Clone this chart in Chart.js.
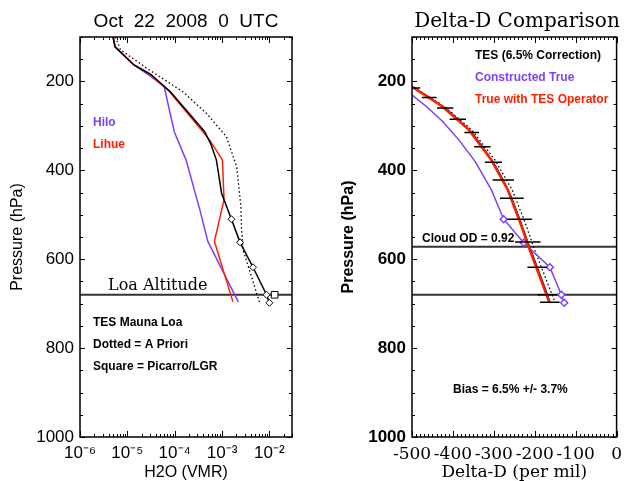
<!DOCTYPE html>
<html>
<head>
<meta charset="utf-8">
<script src="https://cdn.jsdelivr.net/npm/chart.js@4/dist/chart.umd.min.js"></script>
<style>
  body { margin: 0; background: #fff; }
  #wrap { position: relative; width: 629px; height: 481px; }
  canvas { position: absolute; left: 0; top: 0; }
</style>
</head>
<body>
<div id="wrap">
  <canvas id="h2o" width="629" height="481"></canvas>
  <canvas id="dd" width="629" height="481"></canvas>
</div>
<script>
// perfis de vapor d'agua (pressao em hPa, VMR)
var tesPres = [100, 122, 163, 185, 223, 264, 313, 343, 377, 452, 510, 562, 618, 680, 698];
var tesH2O = [5.0e-6, 5.5e-6, 1.38e-5, 3.2e-5, 8.1e-5, 1.74e-4, 4.3e-4, 5.9e-4, 7.6e-4, 9.8e-4, 1.58e-3, 2.4e-3, 4.5e-3, 8.7e-3, 1.0e-2];
var hiloPres = [100, 122, 163, 185, 212, 313, 377, 489, 560, 696];
var hiloH2O = [5.0e-6, 5.5e-6, 1.38e-5, 2.8e-5, 6.0e-5, 9.8e-5, 1.74e-4, 3.4e-4, 5.0e-4, 2.2e-3];
var lihuePres = [100, 122, 163, 182, 223, 332, 377, 467, 489, 560, 696];
var lihueH2O = [5.0e-6, 5.5e-6, 1.38e-5, 2.9e-5, 7.8e-5, 5.5e-4, 1.02e-3, 1.1e-3, 9.8e-4, 6.9e-4, 1.7e-3];
var aprioriPres = [100, 129, 174, 223, 272, 324, 392, 482, 530, 580, 640, 700];
var aprioriH2O = [5.6e-6, 7.2e-6, 2.9e-5, 1.48e-4, 4.7e-4, 1.23e-3, 2.04e-3, 2.5e-3, 2.57e-3, 2.8e-3, 4.2e-3, 6.3e-3];
var picarroPres = [680];
var picarroH2O = [0.0129];
var loaPres = 680;
var h2oDecades = [1e-6, 1e-5, 1e-4, 1e-3, 1e-2];

// delta-D (per mil)
var ddTesPres = [215, 236, 260, 285, 315, 347, 382, 422, 463, 510, 561, 618, 680, 697];
var ddTes = [-494, -458, -419, -388, -354, -328, -301, -277, -256, -237, -217, -194, -169, -163];
var ddTesErr = [14, 18, 20, 20, 18, 20, 21, 26, 29, 30, 31, 24, 24, 24];
var ddTruePres = [215, 257, 290, 332, 381, 444, 510, 563, 618, 680, 698];
var ddTrue = [-521, -464, -425, -385, -345, -306, -276, -227, -163, -135, -128];
var ddOpPres = [205, 257, 309, 377, 444, 519, 572, 696];
var ddOp = [-512, -425, -361, -306, -266, -235, -215, -165];
var ddApPres = [205, 257, 309, 377, 444, 519, 572, 696];
var ddAp = [-510, -420, -354, -297, -255, -223, -203, -151];
var cloudPres = 572;

var roxo = '#7f3fff';
var vermelho = '#ff2000';
var sans = '"Liberation Sans", Arial, sans-serif';
var serif = '"DejaVu Serif", serif';
var notaFonte = 'bold 12px ' + sans;

Chart.defaults.font.family = sans;
Chart.defaults.color = '#000';

function pares(xs, ys) {
    return xs.map(function (x, i) { return { x: x, y: ys[i] }; });
}

function sup(n) {
    var mapa = { '-': '\u207b', '0': '\u2070', '1': '\u00b9', '2': '\u00b2', '3': '\u00b3', '4': '\u2074', '5': '\u2075', '6': '\u2076', '7': '\u2077', '8': '\u2078', '9': '\u2079' };
    return String(n).split('').map(function (c) { return mapa[c]; }).join('');
}

// moldura e marcas para dentro, nos quatro lados
function molduraPlugin(xTicks) {
    return {
        id: 'moldura',
        afterDraw: function (chart) {
            var ctx = chart.ctx, a = chart.chartArea;
            var xs = chart.scales.x, ys = chart.scales.y;
            ctx.save();
            ctx.strokeStyle = '#000';
            ctx.lineWidth = 1;
            ctx.beginPath();
            ys.ticks.forEach(function (t) {
                var py = Math.round(ys.getPixelForValue(t.value)) + 0.5;
                var len = t.value % 200 === 0 ? 5 : 3;
                ctx.moveTo(a.left, py); ctx.lineTo(a.left + len, py);
                ctx.moveTo(a.right, py); ctx.lineTo(a.right - len, py);
            });
            xTicks(xs).forEach(function (t) {
                var px = Math.round(xs.getPixelForValue(t.value)) + 0.5;
                var len = t.major ? 6 : 3;
                ctx.moveTo(px, a.bottom); ctx.lineTo(px, a.bottom - len);
                ctx.moveTo(px, a.top); ctx.lineTo(px, a.top + len);
            });
            ctx.stroke();
            ctx.lineWidth = 1.5;
            ctx.strokeRect(a.left, a.top, a.right - a.left, a.bottom - a.top);
            ctx.restore();
        }
    };
}

function textosPlugin(itens) {
    return {
        id: 'textos',
        afterDraw: function (chart) {
            var ctx = chart.ctx;
            ctx.save();
            ctx.textBaseline = 'middle';
            itens.forEach(function (it) {
                ctx.font = it.font;
                ctx.fillStyle = it.color || '#000';
                ctx.textAlign = it.align || 'left';
                ctx.fillText(it.text, it.x, it.y);
            });
            ctx.restore();
        }
    };
}

var barrasErro = {
    id: 'barrasErro',
    afterDatasetsDraw: function (chart) {
        var ctx = chart.ctx, a = chart.chartArea;
        var xs = chart.scales.x, ys = chart.scales.y;
        ctx.save();
        ctx.beginPath();
        ctx.rect(a.left, a.top, a.right - a.left, a.bottom - a.top);
        ctx.clip();
        ctx.strokeStyle = '#000';
        ctx.lineWidth = 1.5;
        ctx.beginPath();
        ddTesPres.forEach(function (p, i) {
            var py = ys.getPixelForValue(p);
            ctx.moveTo(xs.getPixelForValue(ddTes[i] - ddTesErr[i]), py);
            ctx.lineTo(xs.getPixelForValue(ddTes[i] + ddTesErr[i]), py);
        });
        ctx.stroke();
        ctx.restore();
    }
};

function eixoPressao(negrito, tituloPad) {
    return {
        type: 'linear',
        reverse: true,
        min: 100,
        max: 1000,
        bounds: 'data',
        grid: { display: false, drawTicks: false },
        border: { display: false },
        afterFit: function (s) { s.width = 80; },
        ticks: {
            stepSize: 50,
            autoSkip: false,
            padding: 6,
            font: { size: 17, weight: negrito ? 'bold' : 'normal' },
            callback: function (v) { return v % 200 === 0 ? String(v) : ''; }
        },
        title: {
            display: true,
            text: 'Pressure (hPa)',
            font: { size: 16, lineHeight: 1, weight: negrito ? 'bold' : 'normal' },
            padding: { top: tituloPad, bottom: 0 }
        }
    };
}

// grafico da esquerda: H2O
new Chart(document.getElementById('h2o'), {
    type: 'line',
    data: {
        datasets: [
            {
                data: pares(tesH2O, tesPres),
                borderColor: '#000',
                borderWidth: 1.5,
                pointStyle: 'rectRot',
                pointRadius: function (c) { return c.dataIndex >= 10 ? 3.5 : 0; },
                pointBackgroundColor: '#fff',
                pointBorderColor: '#000',
                pointBorderWidth: 1
            },
            { data: pares(lihueH2O, lihuePres), borderColor: vermelho, borderWidth: 1.5, pointRadius: 0 },
            { data: pares(hiloH2O, hiloPres), borderColor: roxo, borderWidth: 1.5, pointRadius: 0 },
            { data: pares(aprioriH2O, aprioriPres), borderColor: '#000', borderWidth: 1.3, borderDash: [1.5, 2.5], pointRadius: 0 },
            {
                data: pares(picarroH2O, picarroPres),
                showLine: false,
                pointStyle: 'rect',
                pointRadius: 4.7,
                pointBackgroundColor: '#fff',
                pointBorderColor: '#000',
                pointBorderWidth: 1
            },
            { data: [{ x: 1e-6, y: loaPres }, { x: 0.03, y: loaPres }], borderColor: '#333', borderWidth: 2, pointRadius: 0 }
        ]
    },
    options: {
        responsive: false,
        animation: false,
        layout: { padding: { left: 0, right: 337, top: 37, bottom: 0 } },
        plugins: { legend: { display: false }, tooltip: { enabled: false } },
        scales: {
            x: {
                type: 'logarithmic',
                min: 1e-6,
                max: 0.03,
                bounds: 'data',
                grid: { display: false, drawTicks: false },
                border: { display: false },
                afterBuildTicks: function (s) {
                    s.ticks = h2oDecades.map(function (v) { return { value: v }; });
                },
                afterFit: function (s) { s.height = 44; },
                ticks: {
                    autoSkip: false,
                    maxRotation: 0,
                    padding: 6,
                    font: { size: 17 },
                    callback: function (v) { return '10' + sup(Math.round(Math.log10(v))); }
                },
                title: {
                    display: true,
                    text: 'H2O (VMR)',
                    font: { size: 16, lineHeight: 1 },
                    padding: 0
                }
            },
            y: eixoPressao(false, 10)
        }
    },
    plugins: [
        molduraPlugin(function (xs) {
            var lista = [];
            for (var n = -6; n <= -2; n++) {
                for (var k = 1; k <= 9; k++) {
                    var v = k * Math.pow(10, n);
                    if (v <= xs.max) lista.push({ value: v, major: k === 1 });
                }
            }
            return lista;
        }),
        textosPlugin([
            { text: 'Oct  22  2008  0  UTC', x: 186, y: 22, align: 'center', font: '19px ' + sans },
            { text: 'Hilo', x: 93, y: 123, color: roxo, font: notaFonte },
            { text: 'Lihue', x: 93, y: 145, color: vermelho, font: notaFonte },
            { text: 'Loa Altitude', x: 108, y: 286, font: '16px ' + serif },
            { text: 'TES Mauna Loa', x: 93, y: 323, font: notaFonte },
            { text: 'Dotted = A Priori', x: 93, y: 345, font: notaFonte },
            { text: 'Square = Picarro/LGR', x: 93, y: 367, font: notaFonte }
        ])
    ]
});

// grafico da direita: delta-D
new Chart(document.getElementById('dd'), {
    type: 'line',
    data: {
        datasets: [
            { data: pares(ddOp, ddOpPres), borderColor: vermelho, borderWidth: 2.5, pointRadius: 0 },
            {
                data: pares(ddTrue, ddTruePres),
                borderColor: roxo,
                borderWidth: 1.5,
                pointStyle: 'rectRot',
                pointRadius: function (c) { return c.dataIndex >= 6 ? 3.5 : 0; },
                pointBackgroundColor: '#fff',
                pointBorderColor: roxo,
                pointBorderWidth: 1.5
            },
            { data: pares(ddTes, ddTesPres), borderColor: '#000', borderWidth: 1.5, pointRadius: 0 },
            { data: pares(ddAp, ddApPres), borderColor: '#000', borderWidth: 1.3, borderDash: [1.5, 2.5], pointRadius: 0 },
            { data: [{ x: -500, y: cloudPres }, { x: 0, y: cloudPres }], borderColor: '#333', borderWidth: 2, pointRadius: 0 },
            { data: [{ x: -500, y: loaPres }, { x: 0, y: loaPres }], borderColor: '#333', borderWidth: 2, pointRadius: 0 }
        ]
    },
    options: {
        responsive: false,
        animation: false,
        layout: { padding: { left: 332, right: 7, top: 37, bottom: 0 } },
        plugins: { legend: { display: false }, tooltip: { enabled: false } },
        scales: {
            x: {
                type: 'linear',
                min: -500,
                max: 0,
                bounds: 'data',
                grid: { display: false, drawTicks: false },
                border: { display: false },
                afterFit: function (s) { s.height = 44; },
                ticks: {
                    stepSize: 10,
                    autoSkip: false,
                    maxRotation: 0,
                    padding: 7,
                    font: { family: serif, size: 17 },
                    callback: function (v) { return v % 100 === 0 ? String(v) : ''; }
                },
                title: {
                    display: true,
                    text: 'Delta-D (per mil)',
                    font: { family: serif, size: 17, lineHeight: 1 },
                    padding: 0
                }
            },
            y: eixoPressao(true, 8.5)
        }
    },
    plugins: [
        barrasErro,
        molduraPlugin(function (xs) {
            return xs.ticks.map(function (t) { return { value: t.value, major: t.value % 100 === 0 }; });
        }),
        textosPlugin([
            { text: 'Delta-D Comparison', x: 517, y: 22, align: 'center', font: '20px ' + serif },
            { text: 'TES (6.5% Correction)', x: 475, y: 56, font: notaFonte },
            { text: 'Constructed True', x: 475, y: 78, color: roxo, font: notaFonte },
            { text: 'True with TES Operator', x: 475, y: 100, color: vermelho, font: notaFonte },
            { text: 'Cloud OD = 0.92', x: 422, y: 239, font: notaFonte },
            { text: 'Bias = 6.5% +/- 3.7%', x: 453, y: 390, font: notaFonte }
        ])
    ]
});
</script>
</body>
</html>
